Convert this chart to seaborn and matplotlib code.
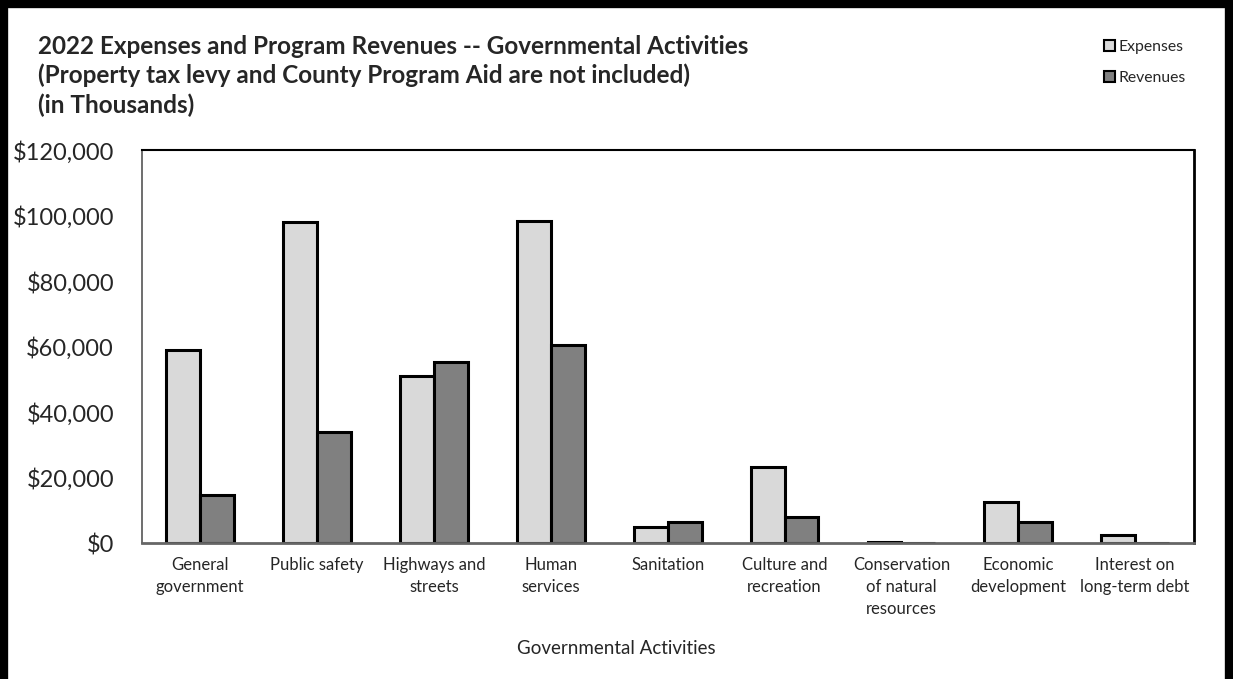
import matplotlib
matplotlib.use("Agg")
import matplotlib.pyplot as plt
import seaborn as sns
import pandas as pd
from matplotlib.lines import Line2D
from matplotlib.patches import Patch
from matplotlib.ticker import FuncFormatter

categories = ["General\ngovernment", "Public safety", "Highways and\nstreets", "Human\nservices",
              "Sanitation", "Culture and\nrecreation", "Conservation\nof natural\nresources",
              "Economic\ndevelopment", "Interest on\nlong-term debt"]
expenses = [58900, 97900, 51000, 98400, 4800, 23300, 400, 12500, 2500]
revenues = [14700, 34000, 55400, 60400, 6600, 7900, 200, 6600, 0]
series_names = ["Expenses", "Revenues"]
colors = ["#D9D9D9", "#808080"]
yticks = [0, 20000, 40000, 60000, 80000, 100000, 120000]

df = pd.DataFrame({
    "Activity": categories * 2,
    "Value": expenses + revenues,
    "Series": [series_names[0]] * len(categories) + [series_names[1]] * len(categories),
})

sns.set_theme(style="white")
plt.rcParams['font.family'] = ['Lato', 'DejaVu Sans']

fig = plt.figure(figsize=(12.33, 6.79), dpi=100)
ax = fig.add_axes([0.115, 0.200, 0.853, 0.579])

sns.barplot(data=df, x="Activity", y="Value", hue="Series", palette=colors,
            edgecolor="black", linewidth=2.2, width=0.58, gap=0, ax=ax, legend=False,
            errorbar=None)

ax.set_ylim(0, 120000)
ax.set_yticks(yticks)
ax.yaxis.set_major_formatter(FuncFormatter(lambda v, p: f"${v:,.0f}"))
ax.tick_params(axis="y", labelsize=17, pad=20, length=0)
ax.tick_params(axis="x", labelsize=12, pad=10, length=0)
for lbl in ax.get_xticklabels():
    lbl.set_linespacing(1.45)
ax.set_xlabel("")
ax.set_ylabel("")
ax.set_xlim(-0.5, len(categories) - 0.5)

for side, col, lw in [("left", "#555555", 1.2), ("bottom", "#666666", 2.0),
                      ("top", "black", 1.5), ("right", "black", 2.0)]:
    ax.spines[side].set_visible(True)
    ax.spines[side].set_color(col)
    ax.spines[side].set_linewidth(lw)

fig.text(0.5, 1 - 648 / 679, "Governmental Activities", fontsize=13.5, ha="center", va="center")

fig.text(0.031, 0.949, "2022 Expenses and Program Revenues -- Governmental Activities\n"
         "(Property tax levy and County Program Aid are not included)\n(in Thousands)",
         fontsize=17.5, fontweight="bold", va="top", ha="left", linespacing=1.32)

handles = [Patch(facecolor=c, edgecolor="black", linewidth=1.5) for c in colors]
fig.legend(handles, series_names, loc="upper left", bbox_to_anchor=(0.884, 0.962),
           frameon=False, fontsize=11.3, handlelength=0.7, handleheight=0.7,
           handletextpad=0.2, labelspacing=1.1)

# outer frame
fig.add_artist(Line2D([0.003, 0.003], [0, 1], color="black", lw=6, transform=fig.transFigure))
fig.add_artist(Line2D([0, 1], [0.994, 0.994], color="black", lw=6, transform=fig.transFigure))
fig.add_artist(Line2D([0.9965, 0.9965], [0, 1], color="black", lw=6, transform=fig.transFigure))

fig.savefig("out.png", dpi=100)
